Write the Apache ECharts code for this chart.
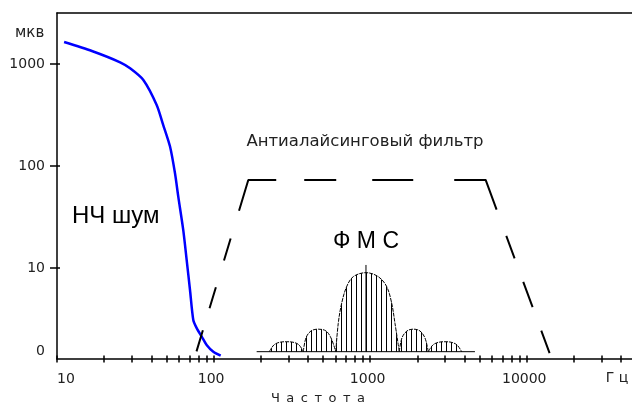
<!DOCTYPE html>
<html>
<head>
<meta charset="utf-8">
<script src="https://cdn.jsdelivr.net/npm/echarts@6/dist/echarts.min.js"></script>
<style>
  html, body { margin: 0; padding: 0; background: #fff; }
  #chart { width: 632px; height: 405px; }
</style>
</head>
<body>
<div id="chart"></div>
<script>
// Frequency axis (Hz, log) and amplitude axis (µV, log)
const freqRange = [10, 47000];
const ampRange = [1.28, 3162];
const freqLabelTicks = [10, 100, 1000, 10000];
const freqAllTicks = [10, 20, 30, 40, 50, 60, 70, 80, 90,
  100, 200, 300, 400, 500, 600, 700, 800, 900,
  1000, 2000, 3000, 4000, 5000, 6000, 7000, 8000, 9000,
  10000, 20000, 30000, 40000];
const ampTicks = [10, 100, 1000];
const zeroLevel = 1.51;            // level marked "0" on the amplitude axis
const ampLabelTicks = [zeroLevel, 10, 100, 1000];

// Low-frequency noise ("НЧ шум")
const noiseFreq = [11.1, 16.7, 25.3, 29.3, 35.6, 43.3, 47.7, 52.7, 56.7, 59.5, 64.0, 67.3, 70.7, 74.2, 78.0, 84.0, 90.3, 99.6, 111];
const noiseAmp  = [1643, 1341, 1039, 907, 697, 396, 252, 155, 84.7, 50, 23.6, 12.0, 6.08, 3.09, 2.57, 2.12, 1.76, 1.51, 1.38];

// Anti-aliasing filter response
const filterFreq = [77.8, 166.6, 5464, 14060];
const filterAmp  = [1.52, 72.9, 72.9, 1.43];

// Phase-modulated signal spectrum ("ФМС"): lobe envelopes
const lobe1Freq = [226.9, 243.1, 265.5, 292.2, 321.4, 351.1, 374.0];
const lobe1Amp  = [1.51, 1.76, 1.87, 1.89, 1.87, 1.76, 1.51];
const lobe2Freq = [374.0, 389.1, 418.8, 467.7, 522.2, 561.9, 603];
const lobe2Amp  = [1.51, 2.06, 2.41, 2.51, 2.41, 2.06, 1.51];
const lobe3Freq = [603, 625.6, 657.7, 707.7, 780.2, 940.1, 1126, 1275, 1372, 1440, 1534];
const lobe3Amp  = [1.51, 2.87, 4.51, 6.56, 8.22, 8.99, 8.22, 6.56, 4.51, 2.87, 1.51];
const lobe4Freq = [1534, 1596, 1718, 1890, 2080, 2238, 2350];
const lobe4Amp  = [1.51, 2.06, 2.41, 2.51, 2.41, 2.06, 1.51];
const lobe5Freq = [2350, 2518, 2750, 3004, 3281, 3583, 3839];
const lobe5Amp  = [1.51, 1.76, 1.87, 1.89, 1.87, 1.76, 1.51];
const spectrumBaseFreq = [188.4, 4668];
const carrierFreq = 940.1;
const carrierAmp = 10.7;

const zip = (xs, ys) => xs.map((x, i) => [x, ys[i]]);

// vertical hatching used to fill the spectrum lobes
const hatch = document.createElement('canvas');
hatch.width = 5; hatch.height = 4;
(function () {
  const c = hatch.getContext('2d');
  c.fillStyle = '#000';
  c.fillRect(1, 0, 1, 4);
})();

const FONT = 'DejaVu Sans';
const AXIS_COLOR = '#000';
const EN = '\u2002';

const chart = echarts.init(document.getElementById('chart'), null, { renderer: 'canvas' });

const lobes = [
  [lobe1Freq, lobe1Amp], [lobe2Freq, lobe2Amp], [lobe3Freq, lobe3Amp],
  [lobe4Freq, lobe4Amp], [lobe5Freq, lobe5Amp]
];

const lobeSeries = lobes.map(([f, a]) => ({
  type: 'line',
  data: zip(f, a),
  showSymbol: false,
  smooth: 0.35,
  silent: true,
  z: 3,
  lineStyle: { color: '#000', width: 1, type: [4, 1] },
  areaStyle: { color: { image: hatch, repeat: 'repeat' }, origin: zeroLevel, opacity: 1 }
}));

const xBase = {
  type: 'log', logBase: 10, gridIndex: 0,
  min: freqRange[0], max: freqRange[1],
  splitLine: { show: false }, minorTick: { show: false }
};
const yBase = {
  type: 'log', logBase: 10, gridIndex: 0,
  min: ampRange[0], max: ampRange[1],
  splitLine: { show: false }, minorTick: { show: false }
};

chart.setOption({
  animation: false,
  backgroundColor: '#fff',
  grid: { left: 57, right: 0, top: 13, bottom: 46, containLabel: false },
  xAxis: [
    Object.assign({}, xBase, {
      position: 'bottom',
      axisLine: { show: true, lineStyle: { color: AXIS_COLOR, width: 1.5 } },
      axisTick: { show: true, inside: false, length: 3.5, customValues: freqAllTicks,
        lineStyle: { color: AXIS_COLOR, width: 1.5 } },
      axisLabel: { show: true, customValues: freqLabelTicks, margin: 13,
        fontFamily: FONT, fontSize: 14, color: '#222', padding: [0, 5, 0, 0],
        alignMinLabel: 'left',
        formatter: v => String(v) }
    }),
    Object.assign({}, xBase, {
      position: 'bottom',
      axisLine: { show: false },
      axisTick: { show: true, inside: true, length: 3.5, customValues: freqAllTicks,
        lineStyle: { color: AXIS_COLOR, width: 1.5 } },
      axisLabel: { show: false }
    }),
    Object.assign({}, xBase, {
      position: 'top',
      axisLine: { show: true, lineStyle: { color: AXIS_COLOR, width: 1.5 } },
      axisTick: { show: false },
      axisLabel: { show: false }
    })
  ],
  yAxis: [
    Object.assign({}, yBase, {
      position: 'left',
      axisLine: { show: true, lineStyle: { color: AXIS_COLOR, width: 1.5 } },
      axisTick: { show: true, inside: false, length: 7, customValues: ampTicks,
        lineStyle: { color: AXIS_COLOR, width: 1.5 } },
      axisLabel: { show: true, customValues: ampLabelTicks, margin: 12,
        fontFamily: FONT, fontSize: 14, color: '#222',
        formatter: v => (v < 2 ? '0' : String(Math.round(v))) }
    }),
    Object.assign({}, yBase, {
      position: 'left',
      axisLine: { show: false },
      axisTick: { show: true, inside: true, length: 3, customValues: ampTicks,
        lineStyle: { color: AXIS_COLOR, width: 1.5 } },
      axisLabel: { show: false }
    })
  ],
  series: [
    {
      name: 'НЧ шум', type: 'line', data: zip(noiseFreq, noiseAmp),
      showSymbol: false, smooth: 0.25, z: 4,
      lineStyle: { color: '#0000ff', width: 2.5 }
    },
    {
      name: 'Антиалайсинговый фильтр', type: 'line', data: zip(filterFreq, filterAmp),
      showSymbol: false, z: 5,
      lineStyle: { color: '#000', width: 2,
        type: [22, 23, 22, 28, 23, 29, 60, 28, 32, 36, 41, 41, 63, 28, 24, 25, 27, 25, 24, 60] }
    },
    {
      name: 'base', type: 'line', data: spectrumBaseFreq.map(f => [f, zeroLevel]),
      showSymbol: false, z: 3, lineStyle: { color: '#000', width: 1 }
    },
    {
      name: 'carrier', type: 'line', data: [[carrierFreq, zeroLevel], [carrierFreq, carrierAmp]],
      showSymbol: false, z: 4, lineStyle: { color: '#000', width: 1 }
    }
  ].concat(lobeSeries),
  graphic: [
    { type: 'text', x: 15, y: 33,
      style: { text: 'мкв', fontFamily: FONT, fontSize: 15, fill: '#222',
        align: 'left', verticalAlign: 'middle' } },
    { type: 'text', x: 72, y: 216,
      style: { text: 'НЧ шум', fontFamily: 'Liberation Sans', fontSize: 24, fill: '#000',
        align: 'left', verticalAlign: 'middle' } },
    { type: 'text', x: 366, y: 242,
      style: { text: 'Ф М С', fontFamily: 'Liberation Sans', fontSize: 23, fill: '#000',
        align: 'center', verticalAlign: 'middle' } },
    { type: 'text', x: 365, y: 142,
      style: { text: 'Антиалайсинговый фильтр', fontFamily: FONT, fontSize: 16.5, fill: '#222',
        align: 'center', verticalAlign: 'middle' } },
    { type: 'text', x: 318, y: 399,
      style: { text: ['Ч', 'а', 'с', 'т', 'о', 'т', 'а'].join(EN), fontFamily: FONT, fontSize: 13, fill: '#222',
        align: 'center', verticalAlign: 'middle' } },
    { type: 'text', x: 617, y: 378,
      style: { text: 'Г ц', fontFamily: FONT, fontSize: 14, fill: '#222',
        align: 'center', verticalAlign: 'middle' } }
  ]
});
</script>
</body>
</html>
